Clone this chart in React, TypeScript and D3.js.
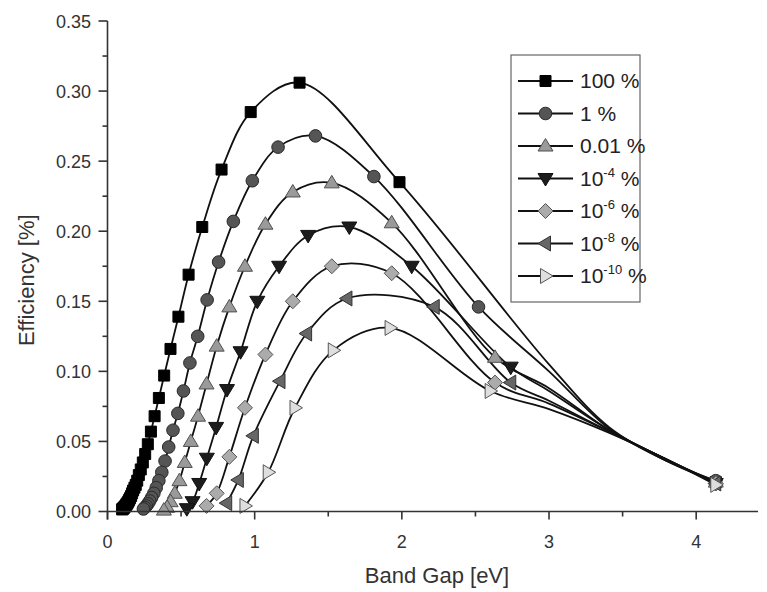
import React from "react";
import * as d3 from "d3";

// ---------- data ----------
const seriesNames = ["100 %", "1 %", "0.01 %", "10^-4 %", "10^-6 %", "10^-8 %", "10^-10 %"];

// marker points (band gap eV, efficiency)
const s100X = [4.133, 1.984, 1.305, 0.973, 0.775, 0.644, 0.551, 0.482, 0.428, 0.385, 0.349, 0.320, 0.295, 0.274, 0.256, 0.240, 0.226, 0.213, 0.202, 0.192, 0.183, 0.174, 0.167, 0.160, 0.153, 0.147, 0.142, 0.137, 0.132, 0.127, 0.123, 0.119, 0.115, 0.112, 0.108, 0.105, 0.102, 0.0995];
const s100Y = [0.021, 0.235, 0.306, 0.285, 0.244, 0.203, 0.169, 0.139, 0.116, 0.097, 0.081, 0.068, 0.057, 0.048, 0.041, 0.035, 0.030, 0.026, 0.022, 0.019, 0.017, 0.015, 0.013, 0.011, 0.0095, 0.0083, 0.0072, 0.0063, 0.0055, 0.0048, 0.0042, 0.0036, 0.0031, 0.0027, 0.0023, 0.0020, 0.0017, 0.0015];
const s1X = [4.133, 2.521, 1.810, 1.413, 1.159, 0.984, 0.855, 0.755, 0.677, 0.613, 0.560, 0.516, 0.478, 0.445, 0.416, 0.391, 0.369, 0.349, 0.331, 0.315, 0.300, 0.287, 0.275, 0.264, 0.254, 0.244];
const s1Y = [0.022, 0.146, 0.239, 0.268, 0.260, 0.236, 0.207, 0.178, 0.151, 0.125, 0.106, 0.086, 0.070, 0.058, 0.046, 0.036, 0.028, 0.022, 0.017, 0.013, 0.010, 0.0075, 0.0055, 0.004, 0.0028, 0.0018];
const s2X = [4.133, 2.633, 1.931, 1.524, 1.259, 1.073, 0.934, 0.828, 0.742, 0.673, 0.615, 0.566, 0.525, 0.489, 0.457, 0.429, 0.405, 0.383];
const s2Y = [0.021, 0.110, 0.206, 0.2345, 0.228, 0.205, 0.175, 0.146, 0.118, 0.091, 0.068, 0.050, 0.035, 0.022, 0.013, 0.007, 0.003, 0.001];
const s4X = [4.133, 2.740, 2.067, 1.643, 1.363, 1.166, 1.018, 0.904, 0.812, 0.738, 0.675, 0.623, 0.578, 0.539];
const s4Y = [0.020, 0.103, 0.175, 0.203, 0.197, 0.175, 0.150, 0.114, 0.087, 0.060, 0.038, 0.020, 0.007, 0.002];
const s6X = [4.133, 2.633, 1.931, 1.524, 1.259, 1.073, 0.934, 0.828, 0.742, 0.673];
const s6Y = [0.020, 0.092, 0.170, 0.175, 0.150, 0.112, 0.074, 0.039, 0.013, 0.004];
const s8X = [4.133, 2.740, 2.220, 1.627, 1.353, 1.172, 0.991, 0.889, 0.810];
const s8Y = [0.020, 0.092, 0.146, 0.152, 0.127, 0.093, 0.054, 0.0225, 0.006];
const s10X = [4.133, 2.600, 1.920, 1.534, 1.274, 1.092, 0.934];
const s10Y = [0.019, 0.086, 0.131, 0.115, 0.074, 0.028, 0.004];

// unmarked curve points in the long gap towards 4.13 eV
const tailX = [3.0, 3.41, 3.8];
const t100Y = [0.105, 0.060, 0.036];
const t1Y = [0.100, 0.059, 0.036];
const t2Y = [0.088, 0.058, 0.037];
const t4Y = [0.086, 0.058, 0.037];
const t6Y = [0.077, 0.057, 0.037];
const t8Y = [0.079, 0.057, 0.037];
const t10Y = [0.073, 0.056, 0.037];

const xTicks = [0, 1, 2, 3, 4];
const yTicks = [0, 0.05, 0.1, 0.15, 0.2, 0.25, 0.3, 0.35];

const markerX = [s100X, s1X, s2X, s4X, s6X, s8X, s10X];
const markerY = [s100Y, s1Y, s2Y, s4Y, s6Y, s8Y, s10Y];
const tailY = [t100Y, t1Y, t2Y, t4Y, t6Y, t8Y, t10Y];

const symbols = ["square", "circle", "up", "down", "diamond", "left", "right"];
const fills = ["#000000", "#555555", "#9a9a9a", "#1c1c1c", "#ababab", "#666666", "#dedede"];
const strokes = ["#000000", "#2a2a2a", "#505050", "#111111", "#555555", "#333333", "#555555"];

function markerPath(kind: string, cx: number, cy: number): string {
  switch (kind) {
    case "square":
      return `M${cx - 5.5},${cy - 5.5}h11v11h-11Z`;
    case "circle": {
      const r = 6.3;
      return `M${cx - r},${cy}a${r},${r} 0 1,0 ${2 * r},0a${r},${r} 0 1,0 ${-2 * r},0Z`;
    }
    case "up":
      return `M${cx},${cy - 7.5}L${cx + 7.5},${cy + 5}L${cx - 7.5},${cy + 5}Z`;
    case "down":
      return `M${cx},${cy + 7.5}L${cx + 7.5},${cy - 5}L${cx - 7.5},${cy - 5}Z`;
    case "diamond":
      return `M${cx},${cy - 7.5}L${cx + 7.5},${cy}L${cx},${cy + 7.5}L${cx - 7.5},${cy}Z`;
    case "left":
      return `M${cx - 7.5},${cy}L${cx + 5},${cy - 7.5}L${cx + 5},${cy + 7.5}Z`;
    case "right":
      return `M${cx + 7.5},${cy}L${cx - 5},${cy - 7.5}L${cx - 5},${cy + 7.5}Z`;
  }
  return "";
}

const W = 767;
const H = 592;
const FONT = "'Liberation Sans', Arial, Helvetica, sans-serif";

export default function App() {
  const x = d3.scaleLinear().domain([0, 4.42]).range([107.5, 758]);
  const y = d3.scaleLinear().domain([0, 0.35]).range([511.5, 21]);

  const line = d3
    .line<[number, number]>()
    .x((d) => x(d[0]))
    .y((d) => y(d[1]))
    .curve(d3.curveCatmullRom.alpha(0.5));

  const curves = markerX.map((xs, i) => {
    const pts: [number, number][] = xs.map((v, j) => [v, markerY[i][j]] as [number, number]);
    tailX.forEach((v, j) => pts.push([v, tailY[i][j]]));
    pts.sort((a, b) => a[0] - b[0]);
    return pts;
  });

  const xMinor = d3.range(0, 4.41, 0.5);
  const yMinor = d3.range(0, 0.351, 0.025);

  const legendX = 511;
  const legendY = 55;
  const rowY = (i: number) => 81 + i * 32.5;

  const label = (name: string, tx: number, ty: number) => {
    const m = name.match(/^10\^(-\d+) %$/);
    if (m) {
      return (
        <text x={tx} y={ty + 7} fontSize={21} fontFamily={FONT} fill="#222">
          10
          <tspan fontSize={13} dy={-9}>{m[1]}</tspan>
          <tspan dy={9}> %</tspan>
        </text>
      );
    }
    return (
      <text x={tx} y={ty + 7} fontSize={21} fontFamily={FONT} fill="#222">
        {name}
      </text>
    );
  };

  return (
    <svg width={W} height={H} style={{ position: "absolute", left: 0, top: 0, background: "#fff" }}>
      <rect x={0} y={0} width={W} height={H} fill="#fff" />
      {/* curves */}
      {curves.map((pts, i) => (
        <path key={"l" + i} d={line(pts) || ""} fill="none" stroke="#111" strokeWidth={1.8} />
      ))}
      {/* markers */}
      {markerX.map((xs, i) => (
        <g key={"m" + i}>
          {xs.map((v, j) => (
            <path
              key={j}
              d={markerPath(symbols[i], x(v), y(markerY[i][j]))}
              fill={fills[i]}
              stroke={strokes[i]}
              strokeWidth={1}
            />
          ))}
        </g>
      ))}
      {/* axes */}
      <g stroke="#333" strokeWidth={1.6} fill="none">
        <line x1={x(0)} x2={x(0)} y1={y(0.35)} y2={y(0) + 8} />
        <line x1={x(0)} x2={758} y1={y(0)} y2={y(0)} />
        {xMinor.map((v) => (
          <line key={"xm" + v} x1={x(v)} x2={x(v)} y1={y(0)} y2={y(0) + (Math.abs(v - Math.round(v)) < 1e-6 ? 8 : 5)} />
        ))}
        {yMinor.map((v) => (
          <line key={"ym" + v} x1={x(0) - (Math.abs(v / 0.05 - Math.round(v / 0.05)) < 1e-6 ? 9 : 5)} x2={x(0)} y1={y(v)} y2={y(v)} />
        ))}
      </g>
      {xTicks.map((v) => (
        <text key={"xt" + v} x={x(v)} y={548} textAnchor="middle" fontSize={18} fontFamily={FONT} fill="#333">
          {d3.format("d")(v)}
        </text>
      ))}
      {yTicks.map((v) => (
        <text key={"yt" + v} x={91} y={y(v) + 6.5} textAnchor="end" fontSize={18} fontFamily={FONT} fill="#333">
          {d3.format(".2f")(v)}
        </text>
      ))}
      <text x={437} y={583} textAnchor="middle" fontSize={22} fontFamily={FONT} fill="#333">
        Band Gap [eV]
      </text>
      <text
        transform={`translate(34,${y(0.165)}) rotate(-90)`}
        textAnchor="middle"
        fontSize={22}
        fontFamily={FONT}
        fill="#333"
      >
        Efficiency [%]
      </text>
      {/* legend */}
      <rect x={legendX} y={legendY} width={129} height={247} fill="#fff" stroke="#666" strokeWidth={1.2} />
      {seriesNames.map((n, i) => (
        <g key={"lg" + i}>
          <line x1={518} x2={573} y1={rowY(i)} y2={rowY(i)} stroke="#111" strokeWidth={1.8} />
          <path d={markerPath(symbols[i], 545.5, rowY(i))} fill={fills[i]} stroke={strokes[i]} strokeWidth={1} />
          {label(n, 580, rowY(i))}
        </g>
      ))}
    </svg>
  );
}
